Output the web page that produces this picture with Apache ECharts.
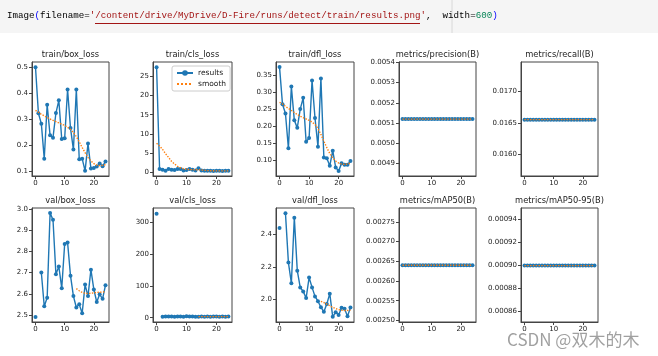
<!DOCTYPE html>
<html><head><meta charset="utf-8">
<script src="https://cdn.jsdelivr.net/npm/echarts@6/dist/echarts.min.js"></script>
<style>html,body{margin:0;padding:0;background:#fff}#c{width:658px;height:356px}</style>
</head><body><div id="c"></div>
<script>
// ---------- data ----------
const epochs = [0,1,2,3,4,5,6,7,8,9,10,11,12,13,14,15,16,17,18,19,20,21,22,23,24];
const panelTitles = ['train/box_loss','train/cls_loss','train/dfl_loss','metrics/precision(B)','metrics/recall(B)',
                     'val/box_loss','val/cls_loss','val/dfl_loss','metrics/mAP50(B)','metrics/mAP50-95(B)'];
const xTicks = [0,10,20];

const trainBoxLoss   = [0.500,0.322,0.282,0.147,0.355,0.237,0.228,0.323,0.372,0.223,0.226,0.414,0.265,0.182,0.414,0.145,0.147,0.100,0.205,0.109,0.111,0.117,0.128,0.118,0.136];
const trainBoxSmooth = [0.333,0.326,0.318,0.312,0.306,0.300,0.295,0.290,0.285,0.280,0.275,0.268,0.260,0.248,0.232,0.212,0.190,0.170,0.152,0.138,0.128,0.122,0.120,0.121,0.124];
const trainClsLoss   = [27.4,0.8,0.6,0.35,0.8,0.6,0.5,0.8,0.8,0.4,0.5,0.8,0.6,0.4,1.0,0.4,0.35,0.3,0.3,0.25,0.3,0.3,0.25,0.3,0.35];
const trainClsSmooth = [7.5,6.8,5.9,4.8,3.8,2.8,2.1,1.5,1.1,0.85,0.7,0.65,0.62,0.6,0.58,0.52,0.45,0.38,0.34,0.32,0.3,0.3,0.3,0.3,0.3];
const trainDflLoss   = [0.373,0.264,0.237,0.135,0.316,0.217,0.195,0.250,0.283,0.154,0.165,0.334,0.224,0.140,0.340,0.108,0.106,0.084,0.128,0.079,0.069,0.091,0.087,0.087,0.098];
const trainDflSmooth = [0.270,0.265,0.258,0.252,0.246,0.240,0.234,0.229,0.225,0.221,0.217,0.212,0.205,0.193,0.176,0.156,0.137,0.120,0.107,0.098,0.092,0.089,0.088,0.089,0.092];
const precision       = [0.00512,0.00512,0.00512,0.00512,0.00512,0.00512,0.00512,0.00512,0.00512,0.00512,0.00512,0.00512,0.00512,0.00512,0.00512,0.00512,0.00512,0.00512,0.00512,0.00512,0.00512,0.00512,0.00512,0.00512,0.00512];
const precisionSmooth = [0.00512,0.00512,0.00512,0.00512,0.00512,0.00512,0.00512,0.00512,0.00512,0.00512,0.00512,0.00512,0.00512,0.00512,0.00512,0.00512,0.00512,0.00512,0.00512,0.00512,0.00512,0.00512,0.00512,0.00512,0.00512];
const recall          = [0.01655,0.01655,0.01655,0.01655,0.01655,0.01655,0.01655,0.01655,0.01655,0.01655,0.01655,0.01655,0.01655,0.01655,0.01655,0.01655,0.01655,0.01655,0.01655,0.01655,0.01655,0.01655,0.01655,0.01655,0.01655];
const recallSmooth    = [0.01655,0.01655,0.01655,0.01655,0.01655,0.01655,0.01655,0.01655,0.01655,0.01655,0.01655,0.01655,0.01655,0.01655,0.01655,0.01655,0.01655,0.01655,0.01655,0.01655,0.01655,0.01655,0.01655,0.01655,0.01655];
const valBoxLoss   = [2.492,null,2.701,2.542,2.582,2.980,2.949,2.693,2.729,2.627,2.835,2.842,2.686,2.590,2.536,2.551,2.509,2.644,2.590,2.714,2.621,2.562,2.598,2.577,2.641];
const valBoxSmooth = [null,null,null,null,null,null,null,null,null,null,null,null,null,null,2.625,2.615,2.607,2.603,2.602,2.603,2.605,2.607,2.608,2.609,2.610];
const valClsLoss   = [326,null,2.6,4.1,3.6,3.4,3.3,3.5,3.9,3.2,4.2,3.8,3.5,3.3,3.2,3.4,3.1,3.6,3.3,3.7,3.4,3.2,3.5,3.3,4.0];
const valClsSmooth = [null,null,null,null,null,null,null,null,null,null,null,null,null,null,3.4,3.4,3.4,3.4,3.4,3.4,3.4,3.45,3.5,3.5,3.5];
const valDflLoss   = [2.441,null,2.533,2.226,2.098,2.505,2.176,2.072,2.047,2.006,2.133,2.072,2.016,1.986,1.949,1.920,1.969,2.033,1.889,1.918,1.900,1.945,1.940,1.893,1.947];
const valDflSmooth = [null,null,null,null,null,null,null,null,null,null,null,null,null,null,1.985,1.978,1.968,1.958,1.948,1.940,1.934,1.930,1.928,1.929,1.930];
const mAP50        = [0.00264,0.00264,0.00264,0.00264,0.00264,0.00264,0.00264,0.00264,0.00264,0.00264,0.00264,0.00264,0.00264,0.00264,0.00264,0.00264,0.00264,0.00264,0.00264,0.00264,0.00264,0.00264,0.00264,0.00264,0.00264];
const mAP50Smooth  = [0.00264,0.00264,0.00264,0.00264,0.00264,0.00264,0.00264,0.00264,0.00264,0.00264,0.00264,0.00264,0.00264,0.00264,0.00264,0.00264,0.00264,0.00264,0.00264,0.00264,0.00264,0.00264,0.00264,0.00264,0.00264];
const mAP5095       = [0.0009,0.0009,0.0009,0.0009,0.0009,0.0009,0.0009,0.0009,0.0009,0.0009,0.0009,0.0009,0.0009,0.0009,0.0009,0.0009,0.0009,0.0009,0.0009,0.0009,0.0009,0.0009,0.0009,0.0009,0.0009];
const mAP5095Smooth = [0.0009,0.0009,0.0009,0.0009,0.0009,0.0009,0.0009,0.0009,0.0009,0.0009,0.0009,0.0009,0.0009,0.0009,0.0009,0.0009,0.0009,0.0009,0.0009,0.0009,0.0009,0.0009,0.0009,0.0009,0.0009];

const yTicksTrainBox = [0.1,0.2,0.3,0.4,0.5];
const yTicksTrainCls = [0,5,10,15,20,25];
const yTicksTrainDfl = [0.10,0.15,0.20,0.25,0.30,0.35];
const yTicksPrecision = [0.0049,0.0050,0.0051,0.0052,0.0053,0.0054];
const yTicksRecall = [0.0160,0.0165,0.0170];
const yTicksValBox = [2.5,2.6,2.7,2.8,2.9,3.0];
const yTicksValCls = [0,100,200,300];
const yTicksValDfl = [2.0,2.2,2.4];
const yTicksMAP50 = [0.00250,0.00255,0.00260,0.00265,0.00270,0.00275];
const yTicksMAP5095 = [0.00086,0.00088,0.00090,0.00092,0.00094];
const yDecimals = [1,0,2,4,4,1,0,1,5,5];

const codeLine = ["Image","(","filename=","'/content/drive/MyDrive/D-Fire/runs/detect/train/results.png'",",  width=","600",")"];
const watermark = 'CSDN @双木的木';

// ---------- layout ----------
const results = [trainBoxLoss,trainClsLoss,trainDflLoss,precision,recall,valBoxLoss,valClsLoss,valDflLoss,mAP50,mAP5095];
const smooths = [trainBoxSmooth,trainClsSmooth,trainDflSmooth,precisionSmooth,recallSmooth,valBoxSmooth,valClsSmooth,valDflSmooth,mAP50Smooth,mAP5095Smooth];
const yTicks = [yTicksTrainBox,yTicksTrainCls,yTicksTrainDfl,yTicksPrecision,yTicksRecall,yTicksValBox,yTicksValCls,yTicksValDfl,yTicksMAP50,yTicksMAP5095];
const yRange = [[0.08,0.52],[-1.05,28.8],[0.054,0.388],[0.004839,0.005402],[0.01565,0.01747],
                [2.468,3.004],[-13.5,344],[1.857,2.565],[0.002496,0.002785],[0.000851,0.00095]];
const colLeft = [32,153,276,399,521];
const colWidth = [77,79,78,77,77];
const rowTop = [62,208];
const plotH = 114;

const FONT = 'DejaVu Sans';
const grids = [], xAxes = [], yAxes = [], series = [], graphics = [];

graphics.push({type:'rect', shape:{x:0,y:0,width:658,height:33}, style:{fill:'#f5f5f5'}, z:0});
graphics.push({type:'line', shape:{x1:452,y1:0,x2:452,y2:33}, style:{stroke:'#d8d8d8',lineWidth:1}, z:1});
graphics.push({type:'text', x:7, y:16, z:2, style:{
  text:'{a|'+codeLine[0]+'}{b|'+codeLine[1]+'}{a|'+codeLine[2]+'}{s|'+codeLine[3]+'}{a|'+codeLine[4]+'}{n|'+codeLine[5]+'}{b|'+codeLine[6]+'}',
  verticalAlign:'middle', font:'9.2px "Liberation Mono"',
  rich:{a:{fill:'#000',font:'9.2px "Liberation Mono"'},b:{fill:'#0000ff',font:'9.2px "Liberation Mono"'},
        s:{fill:'#a31515',font:'9.2px "Liberation Mono"'},n:{fill:'#098658',font:'9.2px "Liberation Mono"'}}}});
graphics.push({type:'line', shape:{x1:95,y1:23.5,x2:420,y2:23.5}, style:{stroke:'#a31515',lineWidth:1}, z:2});

for (let i = 0; i < 10; i++) {
  const r = Math.floor(i/5), c = i%5;
  grids.push({left:colLeft[c], top:rowTop[r], width:colWidth[c], height:plotH, show:true,
              borderColor:'#444', borderWidth:1, backgroundColor:'transparent', containLabel:false});
  xAxes.push({type:'value', gridIndex:i, min:-1.2, max:25.2, position:'bottom',
    axisLine:{show:true, onZero:false, lineStyle:{color:'#444',width:1}},
    axisTick:{show:true, length:3, lineStyle:{color:'#444'}, customValues:xTicks},
    axisLabel:{show:true, fontSize:7, color:'#222', fontFamily:FONT, margin:4, customValues:xTicks},
    splitLine:{show:false}});
  const dec = yDecimals[i];
  yAxes.push({type:'value', gridIndex:i, min:yRange[i][0], max:yRange[i][1], position:'left',
    axisLine:{show:true, onZero:false, lineStyle:{color:'#444',width:1}},
    axisTick:{show:true, length:3, lineStyle:{color:'#444'}, customValues:yTicks[i]},
    axisLabel:{show:true, fontSize:7, color:'#222', fontFamily:FONT, margin:4, customValues:yTicks[i],
               formatter:(v)=>Number(v).toFixed(dec)},
    splitLine:{show:false}});
  series.push({name:'results', type:'line', xAxisIndex:i, yAxisIndex:i,
    data:epochs.map((e,k)=>[e, results[i][k]==null?'-':results[i][k]]),
    symbol:'circle', symbolSize:4, showSymbol:true, connectNulls:false,
    itemStyle:{color:'#1f77b4'}, lineStyle:{color:'#1f77b4', width:1.4}, z:2, animation:false});
  series.push({name:'smooth', type:'line', xAxisIndex:i, yAxisIndex:i,
    data:epochs.map((e,k)=>[e, smooths[i][k]==null?'-':smooths[i][k]]),
    symbol:'none', connectNulls:false,
    itemStyle:{color:'#ff7f0e'}, lineStyle:{color:'#ff7f0e', width:1.4, type:'dotted'}, z:3, animation:false});
  graphics.push({type:'text', x:colLeft[c]+colWidth[c]/2, y:rowTop[r]-7, z:5,
    style:{text:panelTitles[i], align:'center', verticalAlign:'middle', font:'8.3px "DejaVu Sans"', fill:'#222'}});
}

graphics.push({type:'text', x:507, y:340, z:20,
  style:{text:watermark, align:'left', verticalAlign:'middle', font:'17px "Noto Sans CJK SC"', fill:'rgba(120,120,120,0.7)'}});

const chart = echarts.init(document.getElementById('c'), null, {renderer:'canvas'});
chart.setOption({
  animation:false,
  backgroundColor:'#ffffff',
  grid:grids, xAxis:xAxes, yAxis:yAxes, series:series,
  legend:{data:['results',{name:'smooth', itemStyle:{opacity:0}}], orient:'vertical', left:172, top:66, itemWidth:16, itemHeight:7, itemGap:3,
          padding:[3,4,3,4], borderColor:'#ccc', borderWidth:1, borderRadius:2, backgroundColor:'#fff',
          textStyle:{fontSize:7.5, color:'#222', fontFamily:FONT}, selectedMode:false, z:10},
  graphic:graphics
});
</script></body></html>
